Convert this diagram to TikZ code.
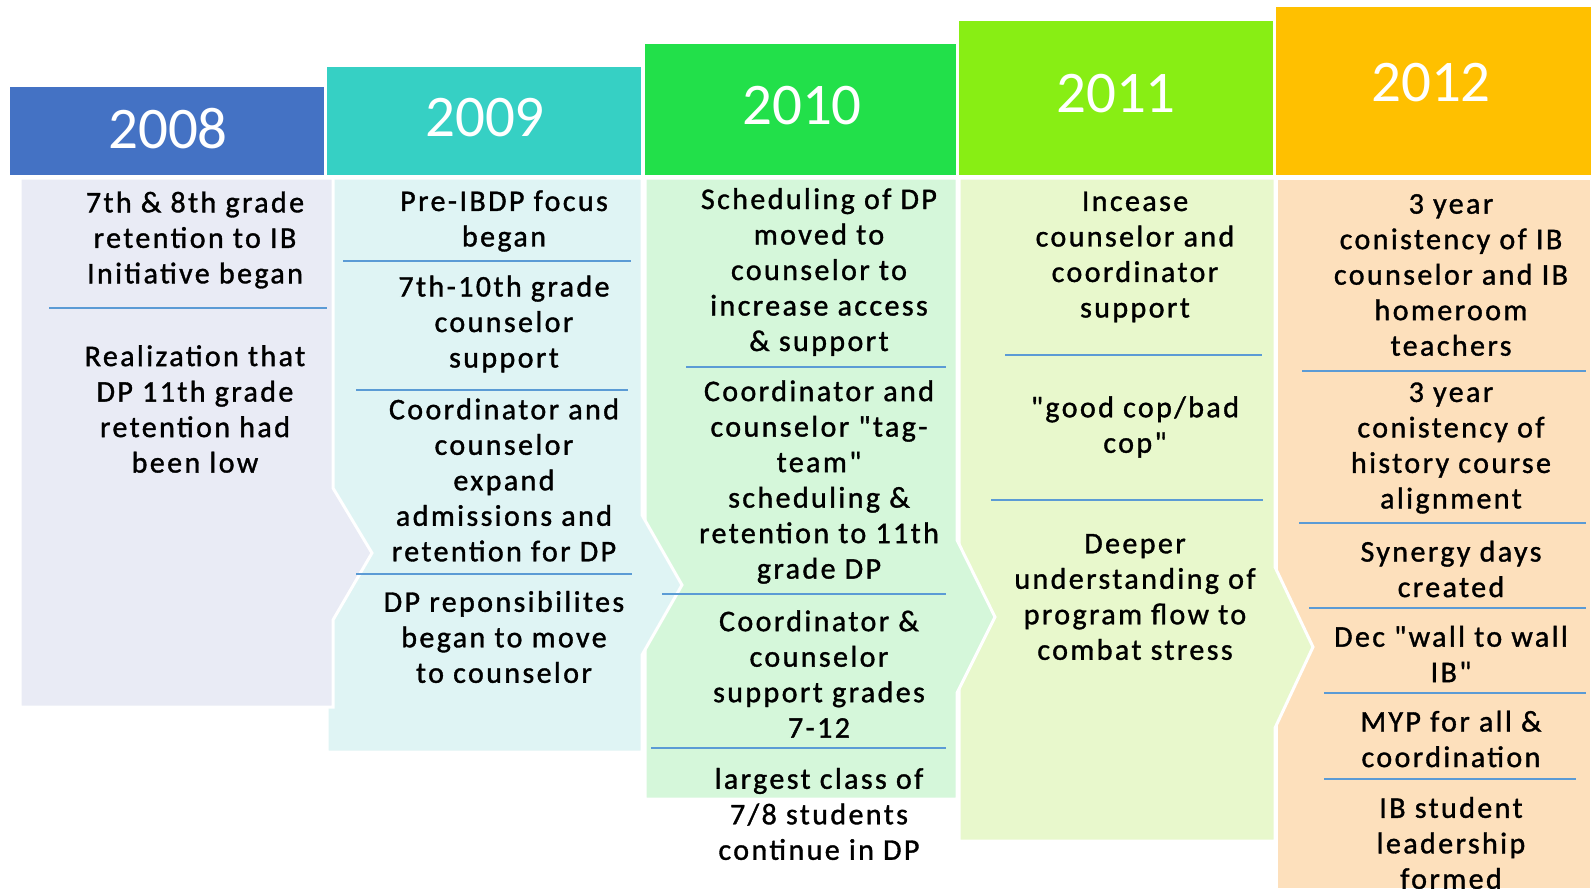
\documentclass[tikz,border=0pt]{standalone}
\usepackage{fontspec}
\setmainfont{Carlito}
\newfontfamily\itemfont[LetterSpace=8,FakeBold=1.2]{Carlito}
\usepackage{tikz}

\definecolor{head08}{HTML}{4472C4}
\definecolor{head09}{HTML}{36D0C4}
\definecolor{head10}{HTML}{22E04A}
\definecolor{head11}{HTML}{88EE14}
\definecolor{head12}{HTML}{FFC000}
\definecolor{body08}{HTML}{E9EBF5}
\definecolor{body09}{HTML}{DFF4F4}
\definecolor{body10}{HTML}{D5F7DA}
\definecolor{body11}{HTML}{E8F8CC}
\definecolor{body12}{HTML}{FDE0BC}
\definecolor{divcolor}{HTML}{5B9BD5}

\begin{document}
\begin{tikzpicture}[x=0.5pt,y=-0.5pt,
  year/.style={text=white,font=\fontsize{29.5pt}{35pt}\selectfont,inner sep=0pt},
  entry/.style={align=center,font=\itemfont\fontsize{15pt}{17.75pt}\selectfont,inner sep=0pt,yshift=-1pt},
  panel/.style={draw=white,line width=1.5pt},
  divider/.style={divcolor,line width=1.2pt}]
\useasboundingbox (0,0) rectangle (1591,889);

% column bodies, drawn right to left so each arrow lies on the next one
\filldraw[panel,fill=body12] (1276,178) -- (1591,178) -- (1591,889) -- (1276,889) -- cycle;
\filldraw[panel,fill=body11] (959,178) -- (1275,178) -- (1275,567) -- (1313,647) -- (1275,728) -- (1275,841) -- (959,841) -- cycle;
\filldraw[panel,fill=body10] (645,178) -- (957,178) -- (957,540) -- (995,617) -- (957,693) -- (957,799) -- (645,799) -- cycle;
\filldraw[panel,fill=body09] (327,178) -- (642,178) -- (642,515) -- (682,585) -- (642,655) -- (642,752) -- (327,752) -- cycle;
\filldraw[panel,fill=body08] (20,178) -- (333,178) -- (333,488) -- (372,553) -- (333,620) -- (333,707) -- (20,707) -- cycle;

% year headers
\fill[head08] (10,87) rectangle (324,175);
\fill[head09] (327,67) rectangle (641,175);
\fill[head10] (645,44) rectangle (956,175);
\fill[head11] (959,21) rectangle (1273,175);
\fill[head12] (1276,7) rectangle (1591,175);
\node[year] (y08) at (168,129) {2008};
\node[year] (y09) at (485,118) {2009};
\node[year] (y10) at (802,106) {2010};
\node[year] (y11) at (1116,94) {2011};
\node[year] (y12) at (1431,83) {2012};

% 2008
\node[entry] (e08a) at (195,238) {7th \& 8th grade\\retention to IB\\Initiative began};
\draw[divider] (49,308) -- (327,308);
\node[entry] (e08b) at (195,407) {Realization that\\DP 11th grade\\retention had\\been low};

% 2009
\node[entry] (e09a) at (504,219) {Pre-IBDP focus\\began};
\draw[divider] (343,261) -- (631,261);
\node[entry] (e09b) at (504,322) {7th-10th grade\\counselor\\support};
\draw[divider] (356,390) -- (628,390);
\node[entry] (e09c) at (504,478) {Coordinator and\\counselor\\expand\\admissions and\\retention for DP};
\draw[divider] (356,574) -- (632,574);
\node[entry] (e09d) at (504,635) {DP reponsibilites\\began to move\\to counselor};

% 2010
\node[entry] (e10a) at (819,270) {Scheduling of DP\\moved to\\counselor to\\increase access\\\& support};
\draw[divider] (686,367) -- (946,367);
\node[entry] (e10b) at (819,480) {Coordinator and\\counselor "tag-\\team"\\scheduling \&\\retention to 11th\\grade DP};
\draw[divider] (662,594) -- (946,594);
\node[entry] (e10c) at (819,672) {Coordinator \&\\counselor\\support grades\\7-12};
\draw[divider] (651,748) -- (946,748);
\node[entry] (e10d) at (819,812) {largest class of\\7/8 students\\continue in DP};

% 2011
\node[entry] (e11a) at (1135,255) {Incease\\counselor and\\coordinator\\support};
\draw[divider] (1005,355) -- (1262,355);
\node[entry] (e11b) at (1135,425) {"good cop/bad\\cop"};
\draw[divider] (991,500) -- (1263,500);
\node[entry] (e11c) at (1135,595) {Deeper\\understanding of\\program flow to\\combat stress};

% 2012
\node[entry] (e12a) at (1451,273) {3 year\\conistency of IB\\counselor and IB\\homeroom\\teachers};
\draw[divider] (1302,371) -- (1586,371);
\node[entry] (e12b) at (1451,446) {3 year\\conistency of\\history course\\alignment};
\draw[divider] (1299,523) -- (1586,523);
\node[entry] (e12c) at (1451,567) {Synergy days\\created};
\draw[divider] (1309,608) -- (1586,608);
\node[entry] (e12d) at (1451,652) {Dec "wall to wall\\IB"};
\draw[divider] (1324,693) -- (1586,693);
\node[entry] (e12e) at (1451,737) {MYP for all \&\\coordination};
\draw[divider] (1324,779) -- (1576,779);
\node[entry] (e12f) at (1451,841) {IB student\\leadership\\formed};
\end{tikzpicture}
\end{document}
